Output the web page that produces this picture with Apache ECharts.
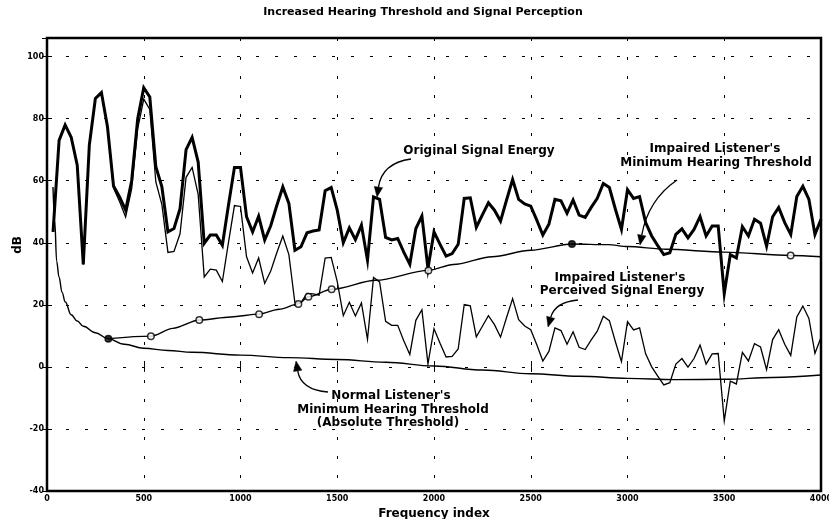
<!DOCTYPE html>
<html>
<head>
<meta charset="utf-8">
<script src="https://cdn.jsdelivr.net/npm/echarts@6/dist/echarts.min.js"></script>
<style>
  html, body { margin: 0; padding: 0; background: #fff; }
  #chart { width: 829px; height: 519px; }
</style>
</head>
<body>
<div id="chart"></div>
<script>
// Spectral bin spacing of the frequency index
const BIN = 31.25;

// Original signal energy per bin (dB)
const originalEnergy = [
  43.5, 73, 78, 74, 65, 33, 71.5, 86.5, 88.4, 77.4,
  58.3, 54.8, 50.5, 60, 80, 90, 87, 64.5, 58, 43.5,
  44.6, 51, 70, 74, 66, 39.8, 42.5, 42.5, 39.2, 52,
  64.3, 64.3, 48.4, 43.5, 48.6, 40.9, 45.5, 52, 58, 52.7,
  37.6, 38.7, 43.2, 43.8, 44.1, 56.8, 57.8, 50.5, 40, 44.8,
  41, 45.7, 34.4, 54.8, 54, 41.7, 40.9, 41.4, 37, 33.1,
  44.6, 48.6, 31.7, 43.5, 39.5, 35.7, 36.5, 39.5, 54.3, 54.5,
  45, 49, 52.9, 50.5, 47, 53.8, 60.4, 54, 52.5, 51.8,
  47.3, 42.5, 46, 54, 53.5, 49.5, 53.8, 48.9, 48.2, 51.4,
  54.3, 59.1, 57.8, 50.8, 44.3, 57.1, 54.3, 54.9, 46.5, 42.2,
  39.1, 36.2, 36.8, 42.7, 44.5, 41.6, 44.3, 48.4, 42.2, 45.4,
  45.4, 23.6, 36.2, 35.1, 45.2, 42.2, 47.6, 46.3, 38.9, 48.4,
  51.4, 46.5, 42.7, 54.9, 58.2, 54, 42.7, 47.6
];

// Signal energy as perceived by the impaired listener (dB)
const perceivedEnergy = [
  43.5, 73, 78, 74, 65, 33, 71.5, 86.5, 88.4, 77.4,
  57.6, 53.3, 48.3, 57.4, 76.8, 86.3, 83, 59.6, 52.3, 36.9,
  37.2, 42.9, 61.1, 64.3, 55.6, 29, 31.5, 31.2, 27.5, 40,
  52, 51.7, 35.5, 30.3, 35.1, 26.9, 30.9, 36.8, 42.2, 36.2,
  20.6, 20.7, 23.7, 23.5, 23.1, 35.1, 35.3, 27.5, 16.5, 20.8,
  16.4, 20.6, 8.9, 28.8, 27.4, 14.7, 13.4, 13.4, 8.4, 4,
  15, 18.4, 1, 12.3, 7.6, 3.2, 3.4, 5.8, 20.1, 19.7,
  9.7, 13.1, 16.5, 13.6, 9.6, 15.9, 22, 15.2, 13.2, 12,
  7.1, 1.9, 5, 12.6, 11.7, 7.3, 11.3, 6.3, 5.6, 8.7,
  11.5, 16.3, 14.9, 8.1, 1.7, 14.6, 11.9, 12.6, 4.2, 0,
  -3, -5.8, -5.1, 0.9, 2.7, -0.1, 2.7, 7, 0.9, 4.2,
  4.3, -17.4, -4.6, -5.5, 4.7, 1.9, 7.5, 6.4, -0.9, 8.8,
  12, 7.3, 3.7, 16.1, 19.6, 15.6, 4.4, 9.5
];

// Normal listener's absolute threshold
const normalFreq = [31, 40, 50, 62, 78, 94, 125, 156, 188, 250, 312, 400, 500, 625,
  750, 1000, 1250, 1500, 1750, 2000, 2250, 2500, 2750, 3000, 3250, 3500, 3750, 4000];
const normalThreshold = [58, 47, 34, 29, 24, 21, 16.8, 14.8, 13.1, 11, 9.2, 7.3, 6, 5.3,
  4.7, 3.8, 3.0, 2.4, 1.5, 0.3, -1, -2.2, -3, -3.7, -4.1, -4, -3.4, -2.6];

// Impaired listener's minimum hearing threshold
const impairedFreq = [317, 537, 650, 787, 950, 1096, 1200, 1299, 1351, 1471, 1700, 1971,
  2100, 2300, 2500, 2713, 2900, 3000, 3200, 3500, 3843, 4000];
const impairedThreshold = [9.1, 9.9, 12.4, 15.1, 16.1, 17, 18.6, 20.3, 22.6, 25, 27.9, 31.1,
  33, 35.5, 37.6, 39.6, 39.4, 38.8, 37.9, 37, 35.9, 35.5];

// Measured points on the impaired threshold (circle markers)
const markerFreq = [317, 537, 787, 1096, 1299, 1351, 1471, 1971, 2713, 3843];
const markerLevel = [9.1, 9.9, 15.1, 17, 20.3, 22.6, 25, 31.1, 39.6, 35.9];
const filledMarkers = [317, 2713];

const FONT = 'DejaVu Sans';
const pairs = (xs, ys) => xs.map((x, i) => [x, ys[i]]);
const binFreq = originalEnergy.map((_, i) => (i + 1) * BIN);

const chart = echarts.init(document.getElementById('chart'), null, { renderer: 'canvas' });

function arrow(sx, sy, cx, cy, tx, ty) {
  const dx = tx - cx, dy = ty - cy, len = Math.hypot(dx, dy);
  const ux = dx / len, uy = dy / len;
  const hl = 10, hw = 4.2;
  const bx = tx - ux * hl, by = ty - uy * hl;
  return [
    { type: 'bezierCurve', z: 50,
      shape: { x1: sx, y1: sy, x2: bx, y2: by, cpx1: cx, cpy1: cy },
      style: { stroke: '#000', lineWidth: 1.3, fill: 'none' } },
    { type: 'polygon', z: 50,
      shape: { points: [[tx, ty], [bx - uy * hw, by + ux * hw], [bx + uy * hw, by - ux * hw]] },
      style: { fill: '#000', stroke: '#000', lineWidth: 0.5 } }
  ];
}

function label(text, x, y, size) {
  return {
    type: 'text', z: 50, x: x, y: y,
    style: {
      text: text, fill: '#000', font: 'bold ' + size + 'px "' + FONT + '"',
      align: 'center', verticalAlign: 'middle'
    }
  };
}

const gridLine = { show: true, lineStyle: { color: '#000', width: 1, type: [3, 16] } };
const tickStyle = { show: true, inside: true, length: 5, lineStyle: { color: '#000', width: 1 } };
const tickFont = { color: '#000', fontFamily: FONT, fontWeight: 'bold', fontSize: 8,
                   formatter: (v) => String(v) };

const option = {
  animation: false,
  backgroundColor: '#fff',
  grid: { left: 47, right: 8, top: 38, bottom: 28, show: true, outerBoundsMode: 'none',
          containLabel: false,
          borderColor: '#000', borderWidth: 2.5, backgroundColor: 'transparent' },
  xAxis: [
    { type: 'value', min: 0, max: 4000, interval: 500, position: 'bottom',
      axisLine: { show: false }, axisTick: tickStyle,
      axisLabel: Object.assign({ margin: 4 }, tickFont),
      splitLine: gridLine,
      name: 'Frequency index', nameLocation: 'middle', nameGap: 10,
      nameTextStyle: { color: '#000', fontFamily: FONT, fontWeight: 'bold', fontSize: 12 } },
    { type: 'value', min: 0, max: 4000, interval: 500, position: 'top',
      axisLine: { show: false }, axisTick: tickStyle,
      axisLabel: { show: false }, splitLine: { show: false } }
  ],
  yAxis: [
    { type: 'value', min: -40, max: 106, interval: 20, position: 'left',
      axisLine: { show: false }, axisTick: tickStyle,
      axisLabel: Object.assign({ margin: 3, showMaxLabel: false }, tickFont),
      splitLine: gridLine },
    { type: 'value', min: -40, max: 106, interval: 20, position: 'right',
      axisLine: { show: false }, axisTick: tickStyle,
      axisLabel: { show: false }, splitLine: { show: false } }
  ],
  series: [
    { name: 'Normal Threshold', type: 'line', data: pairs(normalFreq, normalThreshold),
      smooth: 0.4, smoothMonotone: 'x', showSymbol: false, symbol: 'none', z: 3,
      lineStyle: { color: '#000', width: 1.4 } },
    { name: 'Impaired Threshold', type: 'line', data: pairs(impairedFreq, impairedThreshold),
      smooth: 0.3, smoothMonotone: 'x', showSymbol: false, symbol: 'none', z: 3,
      lineStyle: { color: '#000', width: 1.4 } },
    { name: 'Perceived', type: 'line', data: pairs(binFreq, perceivedEnergy),
      showSymbol: false, symbol: 'none', z: 4,
      lineStyle: { color: '#000', width: 1.3, join: 'miter' } },
    { name: 'Original', type: 'line', data: pairs(binFreq, originalEnergy),
      showSymbol: false, symbol: 'none', z: 5,
      lineStyle: { color: '#000', width: 3, join: 'miter' } },
    { name: 'Threshold Markers', type: 'scatter', z: 6, symbol: 'circle', symbolSize: 6.5,
      data: markerFreq.map((f, i) => ({
        value: [f, markerLevel[i]],
        itemStyle: { color: filledMarkers.includes(f) ? '#000' : '#fff', borderColor: '#000', borderWidth: 1.5 }
      })) }
  ],
  graphic: [
    label('Increased Hearing Threshold and Signal Perception', 423, 12, 11),
    { type: 'text', x: 18, y: 245, rotation: Math.PI / 2, z: 50,
      style: { text: 'dB', fill: '#000', font: 'bold 12px "' + FONT + '"',
               align: 'center', verticalAlign: 'middle' } },
    label('Original Signal Energy', 479, 151, 12),
    ...arrow(411, 159, 382, 163, 377, 197),
    label("Impaired Listener's", 715, 149, 12),
    label('Minimum Hearing Threshold', 716, 163, 12),
    ...arrow(677, 180, 648, 200, 640, 245),
    label("Impaired Listener's", 620, 278, 12),
    label('Perceived Signal Energy', 622, 291, 12),
    ...arrow(578, 300, 555, 302, 548, 327),
    label("Normal Listener's", 391, 396, 12),
    label('Minimum Hearing Threshold', 393, 410, 12),
    label('(Absolute Threshold)', 388, 423, 12),
    ...arrow(328, 392, 301, 390, 296, 361)
  ]
};

chart.setOption(option);
</script>
</body>
</html>
